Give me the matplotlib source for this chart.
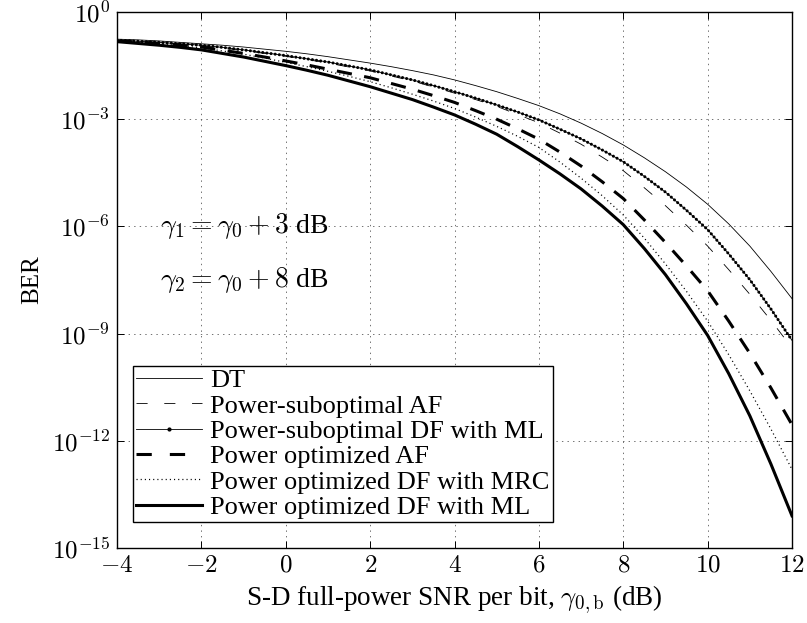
import matplotlib
matplotlib.use("Agg")
import matplotlib.pyplot as plt
import numpy as np
from matplotlib.lines import Line2D

plt.rcParams["font.family"] = ["Liberation Serif", "DejaVu Serif"]
plt.rcParams["mathtext.fontset"] = "cm"
plt.rcParams["lines.scale_dashes"] = False

# SNR axis (dB), 0.5 dB steps, and BER curves stored as log10(BER)
snr_db = [-4, -3.5, -3, -2.5, -2, -1.5, -1, -0.5, 0, 0.5, 1, 1.5, 2, 2.5, 3, 3.5,
          4, 4.5, 5, 5.5, 6, 6.5, 7, 7.5, 8, 8.5, 9, 9.5, 10, 10.5, 11, 11.5, 12]

dt_log = [-0.76, -0.78, -0.81, -0.85, -0.89, -0.93, -0.98, -1.04, -1.10, -1.17, -1.25,
          -1.34, -1.43, -1.53, -1.64, -1.76, -1.90, -2.06, -2.23, -2.42, -2.62, -2.85,
          -3.11, -3.40, -3.72, -4.08, -4.47, -4.90, -5.38, -5.93, -6.55, -7.26, -8.02]
af_sub_log = [-0.80, -0.83, -0.86, -0.90, -0.95, -1.01, -1.08, -1.16, -1.24, -1.33, -1.43,
              -1.54, -1.65, -1.79, -1.93, -2.10, -2.27, -2.45, -2.64, -2.87, -3.10, -3.39,
              -3.70, -4.06, -4.44, -4.92, -5.42, -5.97, -6.55, -7.21, -7.90, -8.63, -9.40]
df_ml_sub_log = [-0.79, -0.82, -0.85, -0.89, -0.93, -0.99, -1.06, -1.14, -1.22, -1.31, -1.40,
                 -1.51, -1.62, -1.76, -1.90, -2.06, -2.23, -2.41, -2.60, -2.80, -3.02, -3.28,
                 -3.55, -3.86, -4.19, -4.60, -5.04, -5.55, -6.09, -6.77, -7.49, -8.31, -9.19]
af_opt_log = [-0.81, -0.84, -0.88, -0.93, -0.98, -1.07, -1.16, -1.26, -1.37, -1.48, -1.60,
              -1.72, -1.84, -2.00, -2.16, -2.34, -2.53, -2.76, -3.00, -3.27, -3.56, -3.92,
              -4.31, -4.75, -5.22, -5.82, -6.45, -7.11, -7.80, -8.65, -9.55, -10.52, -11.55]
df_mrc_opt_log = [-0.82, -0.86, -0.90, -0.95, -1.00, -1.09, -1.18, -1.29, -1.41, -1.53, -1.66,
                  -1.80, -1.95, -2.12, -2.30, -2.49, -2.70, -2.94, -3.20, -3.48, -3.79, -4.20,
                  -4.65, -5.14, -5.68, -6.33, -7.05, -7.82, -8.65, -9.59, -10.60, -11.67, -12.80]
df_ml_opt_log = [-0.83, -0.88, -0.93, -0.99, -1.06, -1.16, -1.26, -1.38, -1.50, -1.63, -1.77,
                 -1.93, -2.09, -2.27, -2.45, -2.66, -2.88, -3.14, -3.42, -3.77, -4.14, -4.53,
                 -4.95, -5.43, -5.95, -6.62, -7.35, -8.17, -9.05, -10.12, -11.30, -12.65, -14.10]

labels = ["DT", "Power-suboptimal AF", "Power-suboptimal DF with ML",
          "Power optimized AF", "Power optimized DF with MRC",
          "Power optimized DF with ML"]

x_ticks = [-4, -2, 0, 2, 4, 6, 8, 10, 12]
x_tick_labels = ["$-4$", "$-2$", "$0$", "$2$", "$4$", "$6$", "$8$", "$10$", "$12$"]
y_ticks = [1e0, 1e-3, 1e-6, 1e-9, 1e-12, 1e-15]
y_tick_labels = ["$10^{0}$", "$10^{-3}$", "$10^{-6}$", "$10^{-9}$", "$10^{-12}$", "$10^{-15}$"]

fig = plt.figure(figsize=(8.07, 6.23), dpi=100)
ax = fig.add_axes([117 / 807, 75 / 623, 675 / 807, 536 / 623])

x = np.array(snr_db)
ber = lambda v: 10.0 ** np.array(v)

ax.plot(x, ber(dt_log), color="k", lw=0.6)
ax.plot(x, ber(af_sub_log), color="k", lw=0.6, dashes=(8, 12))
ax.plot(x, ber(df_ml_sub_log), color="k", lw=0.6)
# dense dot markers along the suboptimal DF curve
ax.plot(x, ber(df_ml_sub_log), color="k", lw=2.2, dashes=(0.01, 3.0), dash_capstyle="round")
ax.plot(x, ber(af_opt_log), color="k", lw=2.2, dashes=(11, 9))
ax.plot(x, ber(df_mrc_opt_log), color="k", lw=0.9, dashes=(0.8, 2.2))
ax.plot(x, ber(df_ml_opt_log), color="k", lw=2.2)

ax.set_yscale("log")
ax.set_xlim(-4, 12)
ax.set_ylim(1e-15, 1e0)
ax.set_xticks(x_ticks)
ax.set_xticklabels(x_tick_labels)
ax.set_yticks(y_ticks)
ax.set_yticklabels(y_tick_labels)
ax.minorticks_off()
ax.tick_params(direction="in", top=True, right=True, length=5, width=0.7, labelsize=18, pad=5)
ax.grid(True, color="0.35", linestyle=(0, (1, 3)), linewidth=0.6)
for s in ax.spines.values():
    s.set_linewidth(1.0)

ax.set_xlabel(r"S-D full-power SNR per bit, $\gamma_{0,\mathrm{b}}$ (dB)", fontsize=19.5, labelpad=5)
ax.set_ylabel("BER", fontsize=18, labelpad=6)

ax.text(-2.98, 1e-6, r"$\gamma_1 = \gamma_0 + 3$ dB", fontsize=20, va="center")
ax.text(-2.98, 10 ** -7.5, r"$\gamma_2 = \gamma_0 + 8$ dB", fontsize=20, va="center")

handles = [
    Line2D([], [], color="k", lw=0.6),
    Line2D([], [], color="k", lw=0.6, dashes=(8, 12)),
    Line2D([], [], color="k", lw=0.6, marker="o", ms=2),
    Line2D([], [], color="k", lw=2.2, dashes=(11, 13)),
    Line2D([], [], color="k", lw=0.9, dashes=(0.8, 2.2)),
    Line2D([], [], color="k", lw=2.2),
]
leg = ax.legend(handles, labels, loc="lower left", bbox_to_anchor=(0.0237, 0.0485),
                borderaxespad=0, fontsize=19, fancybox=False, framealpha=1,
                edgecolor="k", handlelength=2.5, handletextpad=0.3,
                labelspacing=0.07, borderpad=0.12, numpoints=1)
leg.get_frame().set_linewidth(1.0)

fig.savefig("out.png", dpi=100)
